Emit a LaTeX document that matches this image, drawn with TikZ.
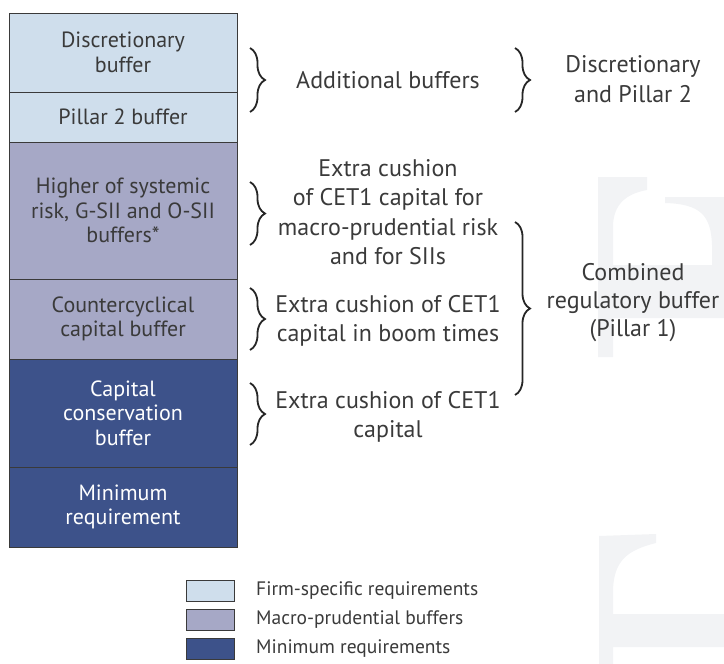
\documentclass[tikz,border=0pt]{standalone}
\usepackage{fontspec}
\setmainfont{PT Sans}
\usetikzlibrary{decorations.pathreplacing}
\definecolor{lb}{RGB}{207,222,236}
\definecolor{mb}{RGB}{166,168,198}
\definecolor{db}{RGB}{61,82,138}
\definecolor{tx}{RGB}{58,58,58}
\definecolor{wm}{RGB}{242,243,245}
\tikzset{
  box/.style={draw=tx, line width=0.8pt, minimum width=228pt, align=center, inner sep=0pt, font=\fontsize{22}{24.5}\selectfont},
  lbox/.style={box, fill=lb, text=tx},
  mbox/.style={box, fill=mb, text=tx},
  dbox/.style={box, fill=db, text=white},
  rtext/.style={align=center, text=tx, inner sep=0pt, font=\fontsize{24}{29.5}\selectfont},
  brc/.style={draw=black!85, line width=1.8pt, decorate, decoration={brace, amplitude=#1}},
  brc/.default=15pt,
  legbox/.style={draw=tx, line width=0.8pt, minimum width=48pt, minimum height=21pt, inner sep=0pt},
  legtext/.style={anchor=west, text=tx, inner sep=0pt, font=\fontsize{19.5}{21}\selectfont}
}
\begin{document}
\begin{tikzpicture}[x=1pt,y=-1pt]
\useasboundingbox (0,0) rectangle (724,664);
% watermark
\fill[wm] (598,177) -- (647,177) -- (647,190) .. controls (625,194) and (614,205) .. (613,225) -- (613,265) -- (712,265) -- (712,245) .. controls (711,215) and (700,204) .. (665,203) -- (665,197) -- (724,197) -- (724,318) -- (613,318) -- (613,357) -- (598,357) -- cycle;
\fill[wm] (599,536) -- (656,534) -- (656,543) .. controls (628,550) and (614,560) .. (613,590) -- (613,614) -- (724,614) -- (724,647) -- (613,647) -- (613,664) -- (599,664) -- cycle;
% stack
\node[lbox, minimum height=79pt] (disc) at (123,52.5) {Discretionary\\buffer};
\node[lbox, minimum height=50pt] (p2) at (123,117) {Pillar 2 buffer};
\node[mbox, minimum height=137pt] (sys) at (123,210.5) {Higher of systemic\\risk, G-SII and O-SII\\buffers*};
\node[mbox, minimum height=80pt] (ccy) at (123,319) {Countercyclical\\capital buffer};
\node[dbox, minimum height=108pt] (ccb) at (123,413) {Capital\\conservation\\buffer};
\node[dbox, minimum height=80pt] (min) at (123,507) {Minimum\\requirement};
% first-level braces
\coordinate (b1t) at (250,48); \coordinate (b1b) at (250,112);
\coordinate (b3t) at (250,182); \coordinate (b3b) at (250,245);
\coordinate (b4t) at (250,288); \coordinate (b4b) at (250,350);
\coordinate (b5t) at (250,383); \coordinate (b5b) at (250,445);
\draw[brc] (b1t) -- (b1b);
\draw[brc] (b3t) -- (b3b);
\draw[brc] (b4t) -- (b4b);
\draw[brc] (b5t) -- (b5b);
\node[rtext] (addb) at (388,80) {Additional buffers};
\node[rtext] (macro) at (388,212) {Extra cushion\\of CET1 capital for\\macro-prudential risk\\and for SIIs};
\node[rtext] (boom) at (388,321) {Extra cushion of CET1\\capital in boom times};
\node[rtext] (cet) at (388,417) {Extra cushion of CET1\\capital};
% second-level braces
\coordinate (b2t) at (515,48); \coordinate (b2b) at (515,112);
\coordinate (b6t) at (515,222); \coordinate (b6b) at (515,395);
\draw[brc] (b2t) -- (b2b);
\draw[brc] (b6t) -- (b6b);
\node[rtext] (dp2) at (633,79) {Discretionary\\and Pillar 2};
\node[rtext, font=\fontsize{24}{28}\selectfont] (comb) at (633,303) {Combined\\regulatory buffer\\(Pillar 1)};
% legend
\node[legbox, fill=lb] (l1) at (210,590.5) {};
\node[legbox, fill=mb] (l2) at (210,619.5) {};
\node[legbox, fill=db] (l3) at (210,648.5) {};
\node[legtext] (t1) at (256,590.5) {Firm-specific requirements};
\node[legtext] (t2) at (256,619.5) {Macro-prudential buffers};
\node[legtext] (t3) at (256,648.5) {Minimum requirements};
\end{tikzpicture}
\end{document}
